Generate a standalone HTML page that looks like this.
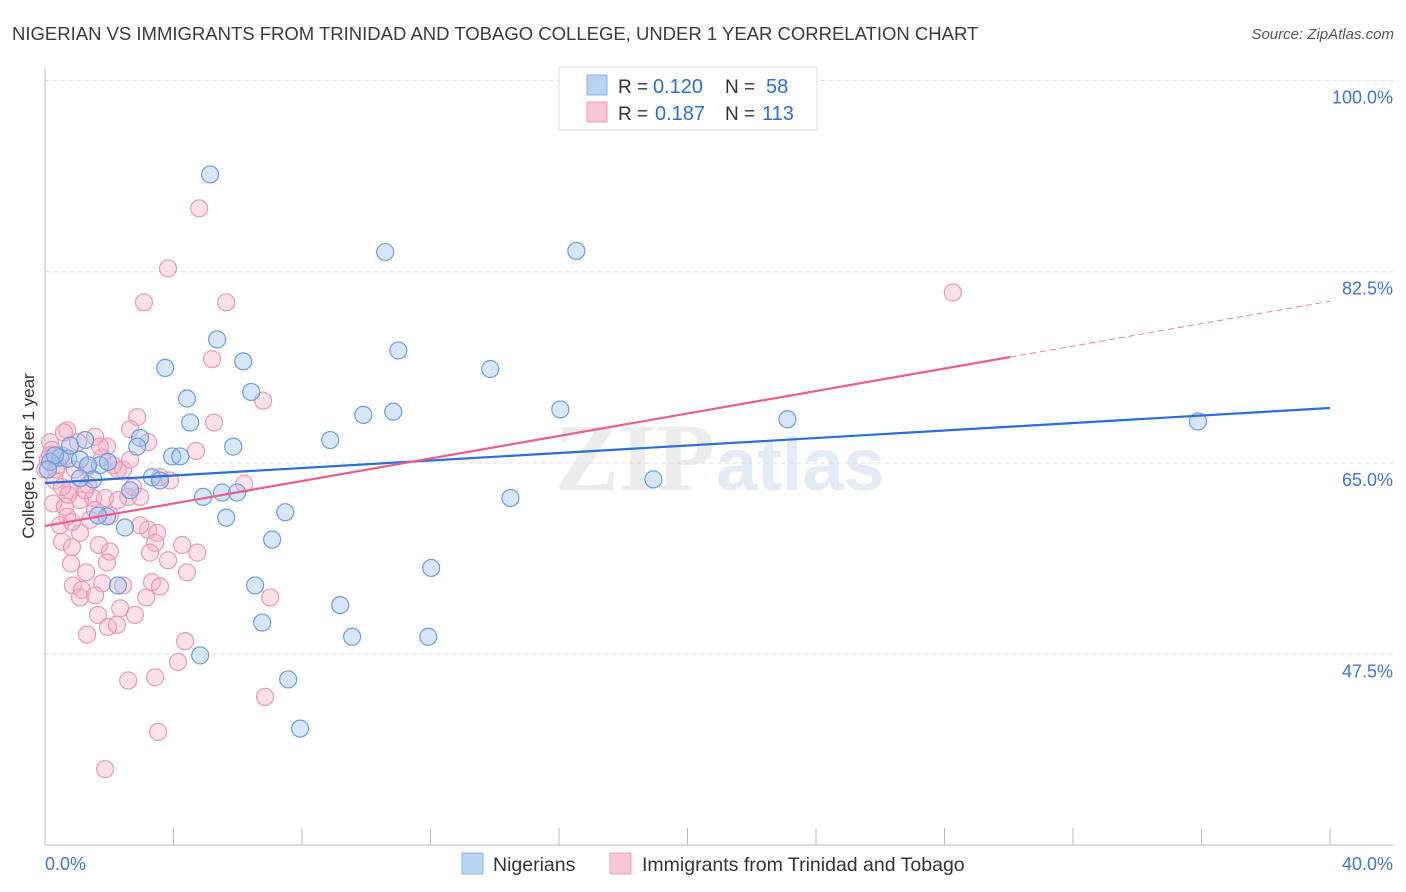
<!DOCTYPE html>
<html><head><meta charset="utf-8"><style>
body{margin:0;background:#fff;font-family:"Liberation Sans",sans-serif;}
#wrap{position:relative;width:1406px;height:892px;overflow:hidden;}
</style></head><body>
<div id="wrap">
<svg id="svg" width="1406" height="892" xmlns="http://www.w3.org/2000/svg">
<text x="12" y="40" font-size="18.5" fill="#3a3a3a">NIGERIAN VS IMMIGRANTS FROM TRINIDAD AND TOBAGO COLLEGE, UNDER 1 YEAR CORRELATION CHART</text>
<text x="1394" y="39" font-size="15" fill="#555" text-anchor="end" font-style="italic">Source: ZipAtlas.com</text>
<text x="715" y="490" font-size="96" fill="#ececec" text-anchor="end" font-family="Liberation Serif" font-weight="bold">ZIP</text>
<text x="716" y="490" font-size="74" fill="#e2ebf6" font-weight="bold">atlas</text>
<g id="grid"></g><g id="axes"></g><g id="pts"></g><g id="lines"></g>
<text transform="translate(34,456) rotate(-90)" font-size="17" fill="#333" text-anchor="middle">College, Under 1 year</text>
<g>
<rect x="559" y="67" width="258" height="63" fill="#fff" stroke="#ddd"/>
<rect x="587" y="75" width="20" height="20" fill="#b8d3f4" stroke="#8ab4e8"/>
<rect x="587" y="102" width="20" height="20" fill="#f9c8d6" stroke="#efa0b8"/>
<text x="618" y="93" font-size="19" fill="#333">R =</text>
<text x="653" y="93" font-size="20" fill="#2a6fd6">0.120</text>
<text x="725" y="93" font-size="19" fill="#333">N =</text>
<text x="766" y="93" font-size="20" fill="#2a6fd6">58</text>
<text x="618" y="120" font-size="19" fill="#333">R =</text>
<text x="655" y="120" font-size="20" fill="#2a6fd6">0.187</text>
<text x="725" y="120" font-size="19" fill="#333">N =</text>
<text x="762" y="120" font-size="20" fill="#2a6fd6">113</text>
</g>
<g>
<rect x="462" y="853" width="21" height="21" fill="#b8d3f4" stroke="#8ab4e8"/>
<text x="493" y="871" font-size="19.5" fill="#333">Nigerians</text>
<rect x="610" y="853" width="21" height="21" fill="#f9c8d6" stroke="#efa0b8"/>
<text x="642" y="871" font-size="19.5" fill="#333">Immigrants from Trinidad and Tobago</text>
</g>
</svg>
</div>
<script>
const yTicks=[47.5,65.0,82.5,100.0];
const yTickLabels=["47.5%","65.0%","82.5%","100.0%"];
const xTickVals=[0,4,8,12,16,20,24,28,32,36,40];
const xLabels=["0.0%","40.0%"];
const blueX=[5.14,10.59,16.54,5.36,6.17,3.74,11.0,13.86,4.42,6.42,16.04,9.91,10.84,4.52,8.88,23.11,35.89,2.96,2.87,5.86,3.96,4.21,0.47,0.16,0.72,1.09,1.71,1.34,3.33,3.58,1.50,2.65,4.92,5.51,5.98,14.49,18.94,1.93,2.49,5.64,7.48,7.07,1.65,6.54,2.27,12.02,9.19,6.76,9.56,11.93,4.83,7.57,7.94,1.09,0.31,1.96,0.78,1.25,0.09];
const blueY=[91.4,84.3,84.4,76.3,74.3,73.7,75.3,73.6,70.9,71.5,69.9,69.4,69.7,68.7,67.1,69.0,68.8,67.3,66.5,66.5,65.6,65.6,65.5,65.1,65.4,65.3,64.8,64.8,63.7,63.4,63.5,62.5,61.9,62.3,62.3,61.8,63.5,60.1,59.1,60.0,60.5,58.0,60.2,53.8,53.8,55.4,52.0,50.4,49.1,49.1,47.4,45.2,40.7,63.6,65.7,65.1,66.6,67.1,64.4];
const pinkX=[2.87,2.65,3.21,0.69,1.56,1.93,1.03,0.16,4.70,5.26,6.79,2.27,1.78,1.31,0.31,0.78,0.25,0.62,1.09,1.50,1.87,2.74,2.59,2.96,3.89,3.58,6.20,0.69,1.09,0.53,0.84,3.21,3.49,3.43,3.27,3.83,4.27,4.74,4.42,2.02,1.93,0.81,1.28,0.87,1.15,1.78,1.09,1.56,2.43,3.33,3.58,3.15,7.01,1.65,2.34,2.80,1.96,2.24,1.31,4.36,4.14,2.59,3.43,6.85,3.52,1.87,4.80,3.83,3.08,5.64,5.20,28.26,0.59,0.22,0.09,0.40,0.0,0.53,0.93,0.72,1.40,2.02,2.27,2.96,0.47,1.71,2.43,1.34,1.25,0.16,0.34,1.56,0.84,2.12,1.68,2.65,0.53];
const pinkY=[69.2,68.1,66.9,68.0,67.4,66.5,66.9,66.9,66.1,68.7,70.7,64.4,65.5,64.6,63.4,62.5,61.3,61.0,61.6,61.8,61.8,62.8,61.9,61.9,63.4,63.7,63.1,60.1,58.6,57.8,57.3,58.9,58.6,57.7,56.8,56.1,57.5,56.8,55.0,56.9,55.9,55.8,55.0,53.8,53.4,54.0,52.7,52.9,53.8,54.1,53.7,52.7,52.7,51.1,51.7,51.1,50.0,50.2,49.3,48.7,46.8,45.1,45.4,43.6,40.4,37.0,88.3,82.8,79.7,79.7,74.5,80.6,67.8,66.2,65.3,64.8,64.4,65.7,64.4,62.1,59.8,60.2,61.6,59.3,59.3,66.5,64.4,63.0,62.5,65.7,64.4,60.7,59.6,64.8,57.5,65.3,62.8];
const blueTrend=[[0,63.17],[40,70.03]];
const pinkTrend=[[0,59.24],[30.05,74.7],[40,79.8]];
const NS="http://www.w3.org/2000/svg";
const sx=v=>45+v*32.125;
const sy=v=>463-(v-65)*10.93;
function mk(tag,attrs,parent){const e=document.createElementNS(NS,tag);for(const k in attrs)e.setAttribute(k,attrs[k]);document.getElementById(parent).appendChild(e);return e;}
yTicks.forEach((t,i)=>{
 const g=mk('line',{x1:45,x2:1393,y1:sy(t),y2:sy(t),stroke:'#ddd','stroke-dasharray':'4,4'},'grid');
 
 
 const l=mk('text',{x:1393,y:sy(t)+23,'font-size':18,fill:'#3f74d0','text-anchor':'end'},'grid');
 l.textContent=yTickLabels[i];
 
 
});
const ax=mk('line',{x1:45,x2:1393,y1:845,y2:845,stroke:'#bbb'},'axes');


const ay=mk('line',{x1:45,x2:45,y1:68,y2:845,stroke:'#bbb'},'axes');


xTickVals.forEach(v=>{
 const t=mk('line',{x1:sx(v),x2:sx(v),y1:828,y2:845,stroke:'#bbb'},'axes');
 
 
});
[[0,'start',xLabels[0]],[40,'end',xLabels[1]]].forEach(([v,a,s])=>{
 const t=mk('text',{x:a==='start'?sx(v):1393,y:870,'font-size':18,fill:'#3f74d0','text-anchor':a},'axes');
 t.textContent=s;
 
 
});
pinkX.forEach((x,i)=>{
 const c=mk('circle',{cx:sx(x),cy:sy(pinkY[i]),r:8.5,fill:'rgba(246,175,198,0.38)',stroke:'#eb98b3','stroke-width':1.2},'pts');
 
 
});
blueX.forEach((x,i)=>{
 const c=mk('circle',{cx:sx(x),cy:sy(blueY[i]),r:8.5,fill:'rgba(160,196,240,0.42)',stroke:'#6a9de0','stroke-width':1.2},'pts');
 
 
});
const bl=mk('line',{x1:sx(blueTrend[0][0]),y1:sy(blueTrend[0][1]),x2:sx(blueTrend[1][0]),y2:sy(blueTrend[1][1]),stroke:'#2a6fd6','stroke-width':2.2},'lines');


const pl=mk('line',{x1:sx(pinkTrend[0][0]),y1:sy(pinkTrend[0][1]),x2:sx(pinkTrend[1][0]),y2:sy(pinkTrend[1][1]),stroke:'#e8608a','stroke-width':2.2},'lines');


const pd=mk('line',{x1:sx(pinkTrend[1][0]),y1:sy(pinkTrend[1][1]),x2:sx(pinkTrend[2][0]),y2:sy(pinkTrend[2][1]),stroke:'#e8809f','stroke-width':1,'stroke-dasharray':'6,4'},'lines');


</script>
</body></html>
